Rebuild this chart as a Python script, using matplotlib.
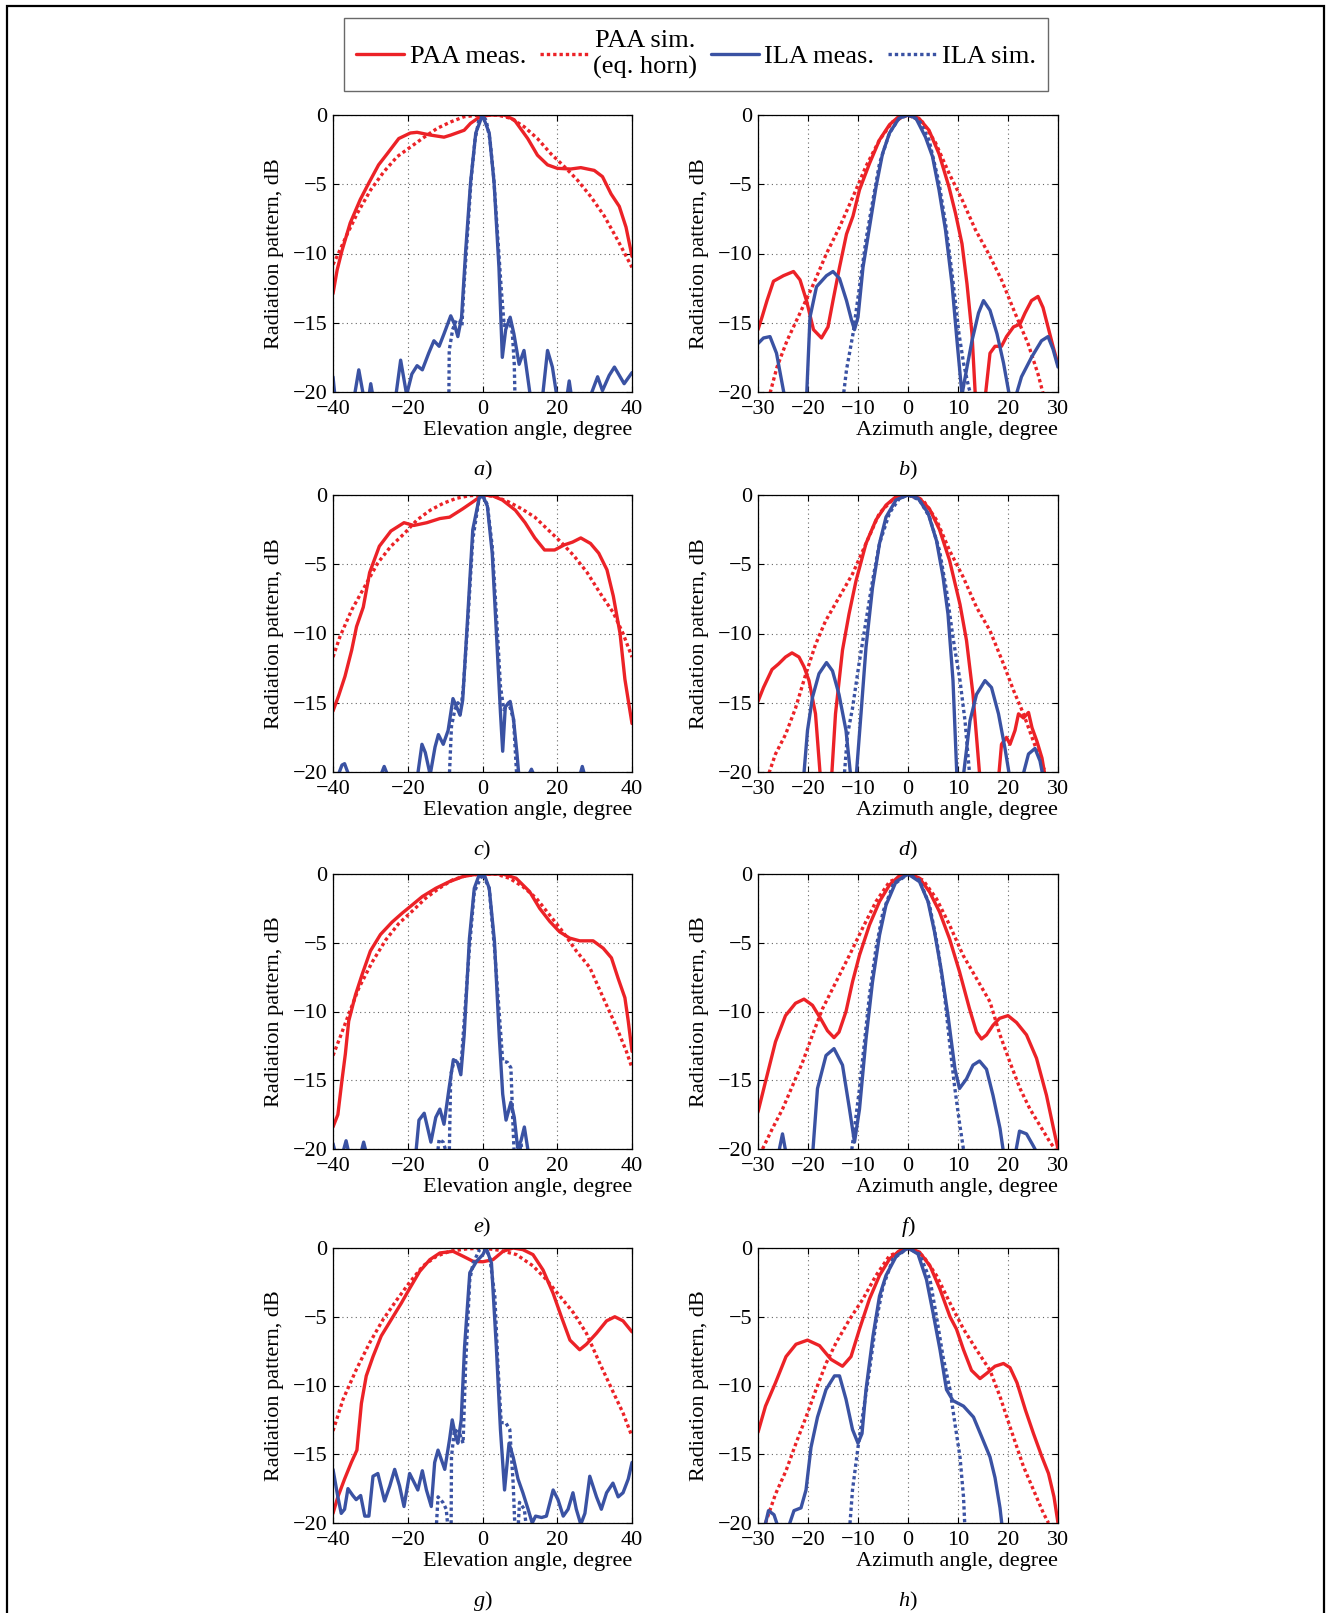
import numpy as np
import matplotlib
matplotlib.use("Agg")
import matplotlib.pyplot as plt
from matplotlib.patches import Rectangle

nan = np.nan

# ---------------- data (dB vs angle, degrees) ----------------
# a) elevation
a_paa_meas_x = [-40,-38.9,-37.6,-35.4,-32.7,-30.4,-27.8,-25.5,-22.4,-19.3,-17.5,-13.9,-10.3,-8.5,-4.9,-3.2,-0.5,2.2,5.8,8.5,12.1,14.7,17.4,20,23.6,26.3,29.9,32.1,34.4,36.6,38.4,40]
a_paa_meas_y = [-12.9,-11.2,-9.8,-7.8,-6.1,-4.9,-3.6,-2.8,-1.7,-1.3,-1.25,-1.45,-1.6,-1.45,-1.1,-0.6,-0.1,0,0,-0.35,-1.7,-2.9,-3.6,-3.85,-3.9,-3.8,-4.0,-4.45,-5.7,-6.6,-8.1,-10.2]
a_paa_sim_x = [-40,-38.9,-36.2,-33.5,-29.9,-26.4,-22.8,-19.2,-15.6,-12.1,-8.5,-4.9,-0.5,4,7.6,11.1,14.7,18.3,21.8,25.4,29.0,32.6,36.1,40]
a_paa_sim_y = [-10.8,-10.2,-8.6,-7.1,-5.4,-4.1,-3.0,-2.3,-1.6,-0.96,-0.5,-0.12,0,0,-0.24,-0.84,-1.7,-2.8,-3.7,-4.7,-5.9,-7.3,-9.0,-11.0]
a_ila_meas_x = [-40,-39.4,nan,-34.4,-33.1,-31.7,nan,-30.5,-29.9,-29.2,nan,-23.3,-21.9,-20.3,-18.9,-17.5,-16.1,-14.4,-13,-11.6,-10.3,-8.5,-7.5,-6.6,-5.6,-4.5,-3.2,-1.8,0,1.8,3.1,4.4,5.3,6.2,7.4,8.4,9.8,11.1,12.9,nan,16.0,17.4,18.7,20,nan,22.5,23.2,23.9,nan,29,30.8,32.1,33.9,35.3,36.6,37.9,40]
a_ila_meas_y = [-18.9,-20.5,nan,-20.5,-18.4,-20.5,nan,-20.5,-19.4,-20.5,nan,-20.5,-17.7,-20.2,-18.7,-18.1,-18.4,-17.2,-16.3,-16.7,-15.8,-14.5,-15.1,-16.0,-14.6,-9.8,-4.9,-1.3,0,-1.3,-4.9,-11.0,-17.5,-15.5,-14.6,-15.8,-18,-17,-20.5,nan,-20.5,-17,-18.2,-20.5,nan,-20.5,-19.2,-20.5,nan,-20.2,-18.9,-19.9,-18.8,-18.2,-18.8,-19.4,-18.6]
a_ila_sim_x = [-9.0,-8.9,-8.0,-7.0,-6.0,-5.5,-5.0,-4,-3,-2,-1,0,1,2,3,4,5,5.8,6.5,7.2,8.0,8.5,8.7]
a_ila_sim_y = [-20.5,-17,-15.5,-14.8,-14.9,-15.2,-12.5,-8.5,-4.5,-1.8,-0.4,0,-0.4,-1.8,-4.5,-8.5,-12.5,-15.2,-14.9,-14.8,-15.8,-18,-20.5]

# b) azimuth
b_paa_meas_x = [-30,-29.2,-28.2,-26.9,-24.9,-22.9,-21.6,-20.3,-18.9,-17.3,-16.0,-15.0,-13.7,-12.3,-11.0,-9.7,-7.7,-5.7,-3.7,-1.8,0.2,2.2,4.2,6.2,8.2,9.5,10.8,11.8,12.8,13.5,nan,15.4,16.4,17.4,18.7,19.7,21.1,22.4,23.4,24.7,26.0,27.0,28.0,29.0,30]
b_paa_meas_y = [-15.5,-14.6,-13.4,-12.0,-11.6,-11.3,-11.9,-13.4,-15.5,-16.1,-15.3,-13.4,-11.0,-8.6,-7.3,-5.4,-3.5,-1.8,-0.7,-0.1,0,-0.24,-1.1,-2.8,-5.2,-7.1,-9.3,-12.2,-15.8,-20.5,nan,-20.5,-17.2,-16.7,-16.7,-16.0,-15.3,-15.1,-14.3,-13.4,-13.1,-13.9,-15.3,-16.7,-18.0]
b_paa_sim_x = [-27.9,-26.2,-24.2,-21.6,-18.9,-16.3,-13.7,-11.0,-8.4,-5.7,-3.1,0,2.9,5.5,8.2,10.8,13.5,16.1,18.7,21.4,24.0,26.0,27.3]
b_paa_sim_y = [-20.5,-18.2,-16.3,-14.3,-12.2,-10.0,-8.1,-5.9,-3.7,-1.8,-0.5,0,-0.5,-2.0,-4.2,-6.1,-8.3,-10.0,-11.9,-14.3,-16.5,-18.7,-20.5]
b_ila_meas_x = [-30,-28.9,-27.6,-26.3,-24.6,nan,-20.3,-19.6,-18.3,-16.3,-15.0,-13.7,-12.3,-11.3,-10.7,-10.0,-9.0,-7.7,-6.4,-5.1,-3.7,-1.8,0,1.6,3.5,4.9,6.2,7.5,8.8,9.8,10.8,11.8,12.8,14.1,15.1,16.4,17.8,19.1,20.4,nan,21.4,22.7,24.7,26.7,28.0,29.0,30]
b_ila_meas_y = [-16.5,-16.1,-16.0,-17.2,-20.5,nan,-20.5,-14.6,-12.4,-11.6,-11.3,-11.8,-13.4,-14.8,-15.5,-14.6,-11.0,-8.1,-5.2,-2.8,-1.3,-0.24,0,-0.24,-1.6,-3.0,-5.4,-8.3,-12.2,-16.3,-20.2,-18.2,-16.3,-14.3,-13.4,-14.1,-15.8,-17.9,-20.5,nan,-20.5,-18.9,-17.5,-16.3,-16.0,-16.9,-18.2]
b_ila_sim_x = [-13.0,-12.3,-11.0,-9.7,-8.4,-7.0,-5.7,-3.7,-1.8,0,2.2,4.2,6.2,7.5,8.8,10.2,11.1,12.1,12.8]
b_ila_sim_y = [-20.5,-18.4,-15.8,-12.4,-9.0,-6.1,-3.5,-1.3,-0.24,0,-0.36,-1.8,-4.9,-7.8,-11.4,-15.8,-17.9,-19.6,-20.5]

# c) elevation
c_paa_meas_x = [-40,-38.5,-36.8,-35.0,-33.7,-31.9,-30.2,-27.6,-24.5,-21.0,-18.4,-14.9,-11.4,-8.8,-5.3,-2.6,0,2.6,5.3,8.8,11.4,14.0,16.6,19.3,21.9,24.1,26.3,28.9,31.1,33.3,35.0,36.8,38.1,39.4,40]
c_paa_meas_y = [-15.6,-14.5,-13.1,-11.2,-9.5,-8.1,-5.6,-3.7,-2.6,-2.0,-2.2,-2.0,-1.7,-1.6,-1.0,-0.5,0,-0.05,-0.36,-1.1,-2.0,-3.1,-3.97,-3.97,-3.6,-3.4,-3.1,-3.5,-4.2,-5.4,-7.3,-10.0,-13.3,-15.5,-16.5]
c_paa_sim_x = [-40,-38.1,-35.0,-31.5,-28.0,-24.5,-21.0,-17.5,-14.0,-10.5,-7.0,-3.5,0,3.5,7.0,10.5,14.0,17.5,21.0,24.5,28.0,31.5,35.0,37.6,40]
c_paa_sim_y = [-11.7,-10.2,-8.3,-6.6,-4.9,-3.7,-2.8,-1.8,-1.1,-0.6,-0.24,-0.05,0,-0.12,-0.5,-1.0,-1.6,-2.5,-3.4,-4.4,-5.6,-7.1,-8.5,-10.0,-11.7]
c_ila_meas_x = [-39.0,-37.6,-36.9,-35.4,nan,-27.6,-26.3,-25.0,nan,-17.5,-16.2,-15.3,-14.0,-12.7,-11.8,-10.5,-9.2,-7.9,-6.6,-6.0,-5.3,-3.9,-2.6,-0.9,0,1.3,2.6,3.9,4.8,5.4,6.1,7.4,8.3,9.2,9.8,nan,11.8,13.1,14.2,nan,25.8,26.7,27.6]
c_ila_meas_y = [-20.5,-19.5,-19.4,-20.5,nan,-20.5,-19.6,-20.5,nan,-20.5,-18.0,-18.6,-20.2,-18.2,-17.3,-18.0,-17.0,-14.7,-15.5,-15.9,-14.8,-8.5,-2.5,-0.24,0,-0.8,-4.2,-10.9,-15.7,-18.5,-15.3,-14.9,-16.2,-18.6,-20.5,nan,-20.5,-19.8,-20.5,nan,-20.5,-19.6,-20.5]
c_ila_sim_x = [-8.9,-8.3,-7.4,-6.6,-5.7,-5.1,-3.9,-2.6,-0.9,0,1.3,2.6,3.9,4.8,5.7,7.0,8.3,9.2]
c_ila_sim_y = [-20.5,-16.7,-15.5,-15.0,-15.3,-13.8,-9.0,-3.2,-0.24,0,-0.7,-3.7,-9.5,-13.8,-15.5,-15.0,-16.2,-20.5]

# d) azimuth
d_paa_meas_x = [-30,-28.9,-27.2,-25.9,-24.5,-23.2,-21.8,-20.8,-19.8,-18.5,-17.5,nan,-15.3,-14.5,-13.1,-11.8,-10.4,-8.4,-6.4,-4.4,-2.4,0.3,2.3,4.3,6.3,8.3,10.4,11.7,13.0,14.4,nan,18.1,18.7,19.7,20.4,21.4,22.1,23.1,24.1,24.8,25.8,26.8,27.5]
d_paa_meas_y = [-14.9,-13.9,-12.6,-12.2,-11.7,-11.4,-11.7,-12.4,-13.4,-15.8,-20.5,nan,-20.5,-15.8,-11.2,-8.6,-6.2,-3.5,-1.8,-0.73,-0.12,0,-0.24,-1.0,-2.5,-4.7,-7.9,-10.5,-14.4,-20.5,nan,-20.5,-18.0,-17.5,-18.0,-17.0,-15.8,-16.1,-15.7,-16.8,-17.8,-19.0,-20.5]
d_paa_sim_x = [-28.2,-26.5,-24.5,-22.5,-20.5,-18.5,-16.5,-13.8,-11.1,-8.4,-5.7,-3.1,0,3.0,5.7,8.3,11.0,13.7,16.4,19.1,21.1,23.1,25.1,27.1,28.1]
d_paa_sim_y = [-20.5,-18.7,-17.3,-15.4,-13.0,-10.8,-9.1,-7.4,-5.7,-3.5,-1.3,-0.36,0,-0.36,-1.8,-4.0,-5.9,-8.1,-9.8,-12.2,-14.1,-15.8,-17.8,-19.7,-20.5]
d_ila_meas_x = [-20.9,-20.1,-19.1,-17.8,-16.3,-15.1,-13.8,-12.4,-11.4,nan,-10.4,-9.4,-8.4,-7.1,-5.7,-4.4,-2.4,0,2.0,4.0,5.7,7.0,8.0,9.0,9.8,nan,11.0,12.4,13.7,15.4,16.7,18.1,19.4,20.4,nan,22.8,24.1,25.4,26.4,27.1]
d_ila_meas_y = [-20.5,-17.0,-14.6,-12.9,-12.1,-12.7,-14.4,-17.0,-20.5,nan,-20.5,-15.8,-11.0,-6.7,-3.5,-1.6,-0.36,0,-0.24,-1.3,-3.3,-5.9,-8.6,-13.4,-20.5,nan,-20.5,-16.3,-14.4,-13.4,-13.9,-15.8,-18.3,-20.5,nan,-20.5,-18.7,-18.3,-19.2,-20.5]
d_ila_sim_x = [-12.8,-12.1,-11.1,-9.8,-8.4,-7.1,-5.7,-3.7,-1.7,0,2.3,4.3,6.3,7.7,9.0,10.4,11.4,12.4]
d_ila_sim_y = [-20.5,-17.3,-15.4,-12.2,-9.1,-6.2,-3.5,-1.3,-0.24,0,-0.36,-1.6,-4.0,-6.9,-10.3,-13.4,-16.3,-20.5]

# e) elevation
e_paa_meas_x = [-40,-38.7,-37.6,-36.7,-35.8,-34.0,-32.2,-30.0,-27.3,-24.2,-21.5,-18.8,-16.1,-12.5,-8.9,-5.3,-1.7,1.8,5.4,9.0,12.6,15.3,18.0,20.6,23.3,26.0,29.6,32.3,34.5,36.3,38.1,39.0,40]
e_paa_meas_y = [-18.4,-17.5,-15.0,-13.1,-10.7,-8.8,-7.3,-5.6,-4.4,-3.5,-2.85,-2.25,-1.64,-1.04,-0.56,-0.19,-0.02,0,0,-0.31,-1.28,-2.5,-3.45,-4.2,-4.66,-4.86,-4.86,-5.4,-6.1,-7.6,-9.0,-10.7,-12.9]
e_paa_sim_x = [-40,-38.0,-35.8,-33.1,-29.5,-25.9,-22.4,-18.8,-15.2,-11.6,-8.0,-4.4,0,3.6,7.2,10.8,14.4,18.0,21.5,25.1,28.7,32.3,35.8,38.5,40]
e_paa_sim_y = [-13.2,-11.8,-10.2,-8.3,-6.4,-4.8,-3.6,-2.7,-1.76,-1.04,-0.43,-0.12,0,0,-0.31,-0.92,-1.76,-3.0,-4.2,-5.6,-6.8,-9.0,-11.1,-12.9,-14.1]
e_ila_meas_x = [-40,-39.2,nan,-37.6,-36.5,-35.6,nan,-32.7,-31.8,-30.9,nan,-17.9,-17.0,-15.6,-13.8,-12.5,-11.4,-10.3,-8.9,-7.8,-6.7,-5.8,-4.9,-3.5,-2.2,-0.9,0.5,1.8,3.2,4.5,5.4,6.3,7.6,8.5,9.4,10.3,11.2,12.4]
e_ila_meas_y = [-19.6,-20.5,nan,-20.5,-19.4,-20.5,nan,-20.5,-19.5,-20.5,nan,-20.5,-17.9,-17.4,-19.5,-17.7,-17.1,-18.2,-15.5,-13.5,-13.7,-14.6,-11.7,-4.7,-1.04,-0.07,-0.07,-1.04,-4.9,-11.9,-16.0,-17.9,-16.6,-17.7,-19.9,-19.4,-18.4,-20.5]
e_ila_sim_x = [-12.1,-11.6,-10.5,-9.4,nan,-8.9,-8.5,-7.6,-6.7,-5.8,-4.9,-3.5,-2.2,0,1.8,3.2,4.5,5.4,6.7,7.6,8.1,8.5,nan,9.8,10.3,10.8]
e_ila_sim_y = [-20.5,-19.3,-19.5,-20.5,nan,-20.5,-14.6,-13.6,-13.6,-14.1,-10.7,-5.4,-1.3,0,-1.04,-5.4,-10.2,-13.6,-13.7,-14.1,-17.9,-20.5,nan,-20.5,-19.6,-20.5]

# f) azimuth
f_paa_meas_x = [-30,-28.5,-26.5,-24.5,-22.5,-20.8,-19.1,-17.5,-16.1,-14.8,-13.8,-12.4,-11.1,-9.7,-7.7,-5.7,-3.7,-1.7,0.3,2.3,4.3,6.3,8.3,10.3,12.3,13.7,14.7,15.7,17.0,18.3,20.0,21.7,23.7,25.7,27.7,29.1,30]
f_paa_meas_y = [-17.3,-15.1,-12.2,-10.3,-9.4,-9.1,-9.55,-10.5,-11.4,-11.9,-11.5,-10.0,-7.85,-5.9,-3.7,-2.0,-0.8,-0.12,0,-0.3,-1.3,-2.75,-4.7,-7.1,-9.8,-11.5,-12.0,-11.7,-11.0,-10.5,-10.3,-10.8,-11.7,-13.4,-16.1,-18.5,-20]
f_paa_sim_x = [-29.1,-27.1,-25.1,-23.1,-21.1,-19.1,-17.1,-14.4,-11.7,-9.1,-6.4,-3.7,0,3.0,5.7,8.3,11.0,13.7,16.4,18.4,20.4,22.4,24.4,26.4,28.4,29.4]
f_paa_sim_y = [-20,-18.5,-17.1,-15.4,-13.7,-11.7,-9.8,-7.85,-5.9,-3.95,-2.0,-0.56,0,-0.44,-1.8,-3.7,-5.9,-7.6,-9.3,-11.7,-13.7,-15.6,-17.1,-18.3,-19.5,-20]
f_ila_meas_x = [-26.0,-25.1,-24.3,nan,-19.1,-18.1,-16.4,-14.8,-13.1,-11.7,-10.7,-9.7,-8.4,-7.1,-5.7,-4.4,-2.4,0,2.3,4.0,5.3,6.7,8.0,9.4,10.3,11.7,13.0,14.3,15.7,17.0,18.4,19.2,nan,21.4,22.3,23.7,25.1,26.1]
f_ila_meas_y = [-20.5,-18.9,-20.5,nan,-20.5,-15.6,-13.2,-12.7,-13.9,-17.1,-19.5,-17.1,-12.0,-7.85,-4.45,-2.26,-0.56,0,-0.56,-2.0,-4.2,-7.1,-10.3,-14.2,-15.6,-14.9,-13.9,-13.6,-14.2,-16.1,-18.5,-20.5,nan,-20.5,-18.7,-18.9,-19.8,-20.5]
f_ila_sim_x = [-11.4,-10.7,-9.7,-8.7,-7.7,-6.4,-5.0,-3.0,0,2.3,4.3,6.0,7.3,8.3,9.3,10.3,11.0,11.3]
f_ila_sim_y = [-20.5,-18.5,-15.6,-12.2,-8.8,-5.4,-2.75,-0.8,0,-0.44,-2.26,-5.4,-8.8,-12.2,-15.4,-18.1,-19.8,-20.5]

# g) elevation
g_paa_meas_x = [-40,-38.7,-36.9,-35.1,-33.6,-32.4,-31.1,-29.3,-27.1,-24.4,-21.7,-19.4,-16.8,-14.1,-11.4,-7.9,-5.2,-2.5,0.1,2.8,5.5,8.2,10.8,13.5,16.2,18.9,21.1,23.4,26.0,27.8,30.5,33.2,35.4,37.6,40]
g_paa_meas_y = [-19.3,-18.1,-16.8,-15.6,-14.7,-11.3,-9.3,-7.9,-6.4,-5.2,-4.0,-2.9,-1.7,-0.85,-0.36,-0.24,-0.6,-0.97,-1.0,-0.85,-0.24,0,-0.12,-0.48,-1.6,-3.3,-5.0,-6.7,-7.4,-7.0,-6.2,-5.3,-5.0,-5.3,-6.1]
g_paa_sim_x = [-40,-37.3,-33.7,-30.2,-26.6,-23.0,-19.5,-15.9,-12.3,-8.8,-4.3,0.1,4.6,9.1,13.5,17.1,20.7,24.3,27.8,31.4,35.0,37.6,40]
g_paa_sim_y = [-13.3,-11.0,-8.8,-6.9,-5.2,-3.8,-2.5,-1.3,-0.6,-0.24,-0.07,0,-0.17,-0.48,-1.3,-2.3,-3.5,-4.7,-6.2,-8.4,-10.5,-12.0,-13.7]
g_ila_meas_x = [-40,-38.7,-37.8,-36.9,-36.0,-34.7,-33.8,-32.6,-31.5,-30.4,-29.3,-28.0,-26.2,-24.8,-23.5,-22.2,-21.0,-19.5,-18.2,-17.3,-16.1,-15.0,-13.7,-12.8,-11.9,-10.1,-8.8,-8.1,-7.2,-6.6,-5.7,-4.8,-3.4,-1.6,0.1,1.0,2.4,3.7,4.8,5.9,7.1,8.2,9.5,10.8,12.2,13.3,14.2,15.8,17.1,18.9,20.2,21.6,22.9,24.2,25.1,26.3,27.4,28.7,30.5,31.8,33.2,34.9,36.3,37.6,39.0,40]
g_ila_meas_y = [-16.1,-18.1,-19.3,-19.0,-17.5,-18.0,-18.3,-18.0,-19.5,-19.5,-16.6,-16.4,-18.4,-17.3,-16.1,-17.3,-18.8,-16.4,-17.1,-17.6,-16.2,-17.6,-18.8,-15.6,-14.7,-16.1,-13.9,-12.5,-13.7,-14.2,-12.5,-7.2,-1.8,-0.97,-0.48,0,-1.1,-7.2,-13.2,-17.6,-14.2,-15.2,-16.8,-17.8,-19.0,-20,-19.5,-19.6,-19.5,-17.6,-18.3,-19.5,-19.0,-17.8,-19.0,-20.1,-19.3,-16.6,-18.1,-19.0,-17.8,-17.1,-18.1,-17.8,-16.8,-15.6]
g_ila_sim_x = [-12.4,-11.9,-10.6,-9.7,-9.2,nan,-8.4,-8.3,-7.5,-6.1,-5.2,-4.5,-3.4,-2.5,-0.8,0.6,1.9,3.3,4.1,5.0,6.2,7.3,8.2,8.7,nan,9.5,9.9,11.2,11.8]
g_ila_sim_y = [-20.5,-18.1,-18.5,-19.0,-20.5,nan,-20.5,-15.2,-13.2,-13.5,-14.2,-8.4,-2.3,-1.1,-0.12,0,-0.6,-3.5,-8.4,-12.7,-12.7,-13.2,-17.1,-20.5,nan,-20.5,-18.5,-19.0,-20.5]

# h) azimuth
h_paa_meas_x = [-30,-28.5,-26.5,-24.4,-22.4,-20.1,-17.7,-15.4,-13.1,-11.4,-9.7,-7.7,-5.7,-3.7,-1.7,0.3,2.3,4.4,6.4,8.4,9.7,11.1,12.7,14.4,15.8,17.4,19.1,20.4,21.8,23.5,25.1,26.8,28.1,29.2,30]
h_paa_meas_y = [-13.4,-11.5,-9.8,-7.9,-7.0,-6.7,-7.1,-8.1,-8.6,-7.9,-5.9,-3.7,-2.0,-0.8,-0.2,0,-0.3,-1.3,-3.0,-5.0,-5.9,-7.4,-8.9,-9.5,-9.1,-8.6,-8.4,-8.7,-9.8,-11.8,-13.5,-15.2,-16.4,-18.1,-20]
h_paa_sim_x = [-28.5,-26.5,-24.4,-22.4,-20.4,-18.4,-16.4,-14.4,-11.7,-9.0,-6.4,-3.7,0,3.0,5.7,8.4,11.1,13.7,16.4,18.4,20.4,23.1,25.1,27.1,28.1]
h_paa_sim_y = [-20,-17.9,-16.2,-14.2,-12.3,-10.3,-8.4,-6.9,-5.2,-3.7,-2.0,-0.56,0,-0.56,-2.0,-4.0,-5.9,-7.4,-8.9,-10.8,-13.0,-15.9,-17.6,-19.3,-20]
h_ila_meas_x = [-28.8,-27.9,-26.8,-25.8,nan,-24.1,-22.8,-21.4,-20.4,-19.4,-18.1,-16.4,-14.7,-13.7,-12.4,-11.1,-10.0,-9.2,-8.4,-7.0,-5.7,-4.4,-2.3,0,2.0,3.7,5.0,6.4,7.7,9.0,11.1,13.1,14.7,16.4,17.4,18.4,18.9]
h_ila_meas_y = [-20.5,-19.1,-19.4,-20.5,nan,-20.5,-19.1,-18.9,-17.6,-14.5,-12.3,-10.3,-9.3,-9.3,-11.0,-13.2,-14.2,-13.5,-10.3,-6.4,-3.5,-2.0,-0.56,0,-0.44,-2.3,-4.7,-7.4,-10.3,-11.1,-11.5,-12.3,-13.7,-15.2,-16.7,-18.9,-20.5]
h_ila_sim_x = [-11.7,-11.1,-10.0,-9.0,-7.7,-6.4,-5.0,-3.0,0,2.3,4.4,5.7,7.0,8.4,9.4,10.4,11.1,11.4]
h_ila_sim_y = [-20.5,-17.6,-14.5,-12.0,-8.9,-5.4,-2.8,-0.8,0,-0.44,-2.3,-5.0,-7.9,-10.3,-12.8,-15.2,-18.1,-20.5]

legend_labels = ["PAA meas.", "PAA sim.\n(eq. horn)", "ILA meas.", "ILA sim."]
panel_letters = ["a", "b", "c", "d", "e", "f", "g", "h"]
elev_ticks = [-40, -20, 0, 20, 40]
azim_ticks = [-30, -20, -10, 0, 10, 20, 30]
y_ticks = [-20, -15, -10, -5, 0]

# ---------------- style ----------------
plt.rcParams["font.family"] = ["Liberation Serif", "DejaVu Serif"]
plt.rcParams["mathtext.fontset"] = "custom"
plt.rcParams["mathtext.rm"] = "Liberation Serif"
plt.rcParams["mathtext.it"] = "Liberation Serif:italic"

RED = "#EC2227"
BLUE = "#3A52A3"
LW = 2.4
DOT = (0, (1.0, 0.9))

W, H = 1326, 1613
fig = plt.figure(figsize=(W / 100, H / 100), dpi=100)

col_px = [(333, 632), (758, 1058)]
row_px = [(115, 392), (495, 772), (874, 1149), (1248, 1523)]

series = {
    "a": (a_paa_meas_x, a_paa_meas_y, a_paa_sim_x, a_paa_sim_y, a_ila_meas_x, a_ila_meas_y, a_ila_sim_x, a_ila_sim_y),
    "b": (b_paa_meas_x, b_paa_meas_y, b_paa_sim_x, b_paa_sim_y, b_ila_meas_x, b_ila_meas_y, b_ila_sim_x, b_ila_sim_y),
    "c": (c_paa_meas_x, c_paa_meas_y, c_paa_sim_x, c_paa_sim_y, c_ila_meas_x, c_ila_meas_y, c_ila_sim_x, c_ila_sim_y),
    "d": (d_paa_meas_x, d_paa_meas_y, d_paa_sim_x, d_paa_sim_y, d_ila_meas_x, d_ila_meas_y, d_ila_sim_x, d_ila_sim_y),
    "e": (e_paa_meas_x, e_paa_meas_y, e_paa_sim_x, e_paa_sim_y, e_ila_meas_x, e_ila_meas_y, e_ila_sim_x, e_ila_sim_y),
    "f": (f_paa_meas_x, f_paa_meas_y, f_paa_sim_x, f_paa_sim_y, f_ila_meas_x, f_ila_meas_y, f_ila_sim_x, f_ila_sim_y),
    "g": (g_paa_meas_x, g_paa_meas_y, g_paa_sim_x, g_paa_sim_y, g_ila_meas_x, g_ila_meas_y, g_ila_sim_x, g_ila_sim_y),
    "h": (h_paa_meas_x, h_paa_meas_y, h_paa_sim_x, h_paa_sim_y, h_ila_meas_x, h_ila_meas_y, h_ila_sim_x, h_ila_sim_y),
}

handles = None
for i, letter in enumerate(panel_letters):
    r, c = divmod(i, 2)
    (x0, x1), (y0, y1) = col_px[c], row_px[r]
    ax = fig.add_axes([x0 / W, 1 - y1 / H, (x1 - x0) / W, (y1 - y0) / H])
    pmx, pmy, psx, psy, imx, imy, isx, isy = series[letter]
    l1, = ax.plot(pmx, pmy, color=RED, lw=LW, solid_capstyle="round", solid_joinstyle="round")
    l2, = ax.plot(psx, psy, color=RED, lw=LW, linestyle=DOT)
    l3, = ax.plot(imx, imy, color=BLUE, lw=LW, solid_capstyle="round", solid_joinstyle="round")
    l4, = ax.plot(isx, isy, color=BLUE, lw=LW, linestyle=DOT)
    if handles is None:
        handles = [l1, l2, l3, l4]
    elev = (c == 0)
    if elev:
        ax.set_xlim(-40, 40)
        ax.set_xticks(elev_ticks)
        ax.set_xlabel("Elevation angle, degree", fontsize=16, loc="right", labelpad=1)
    else:
        ax.set_xlim(-30, 30)
        ax.set_xticks(azim_ticks)
        ax.set_xlabel("Azimuth angle, degree", fontsize=16, loc="right", labelpad=1)
    ax.set_ylim(-20, 0)
    ax.set_yticks(y_ticks)
    ax.set_ylabel("Radiation pattern, dB", fontsize=16, labelpad=6)
    ax.tick_params(direction="in", top=True, right=True, length=4, width=0.8,
                   labelsize=16)
    ax.tick_params(axis="y", pad=4)
    ax.tick_params(axis="x", pad=6)
    ax.grid(True, linestyle=(0, (1, 3)), color="#666666", linewidth=0.8)
    for s in ax.spines.values():
        s.set_linewidth(0.9)
    ax.text(0.5, -0.285, r"$\mathit{%s}$)" % letter, transform=ax.transAxes,
            ha="center", va="center", fontsize=16)

leg = fig.legend(handles, legend_labels, loc="center",
                 bbox_to_anchor=(696 / W, 1 - 54.5 / H), ncol=4, fontsize=19,
                 frameon=True, fancybox=False, edgecolor="#444444",
                 handlelength=1.82, handletextpad=0.2, columnspacing=0.53,
                 borderpad=0.45, borderaxespad=0)
leg.get_frame().set_linewidth(1.0)
for t in leg.get_texts():
    t.set_multialignment("center")

fig.patches.append(Rectangle((7 / W, -0.01), (1324 - 7) / W, 1.01 - 6 / H,
                             transform=fig.transFigure, fill=False,
                             edgecolor="black", linewidth=1.6))

fig.savefig("out.png", dpi=100)
